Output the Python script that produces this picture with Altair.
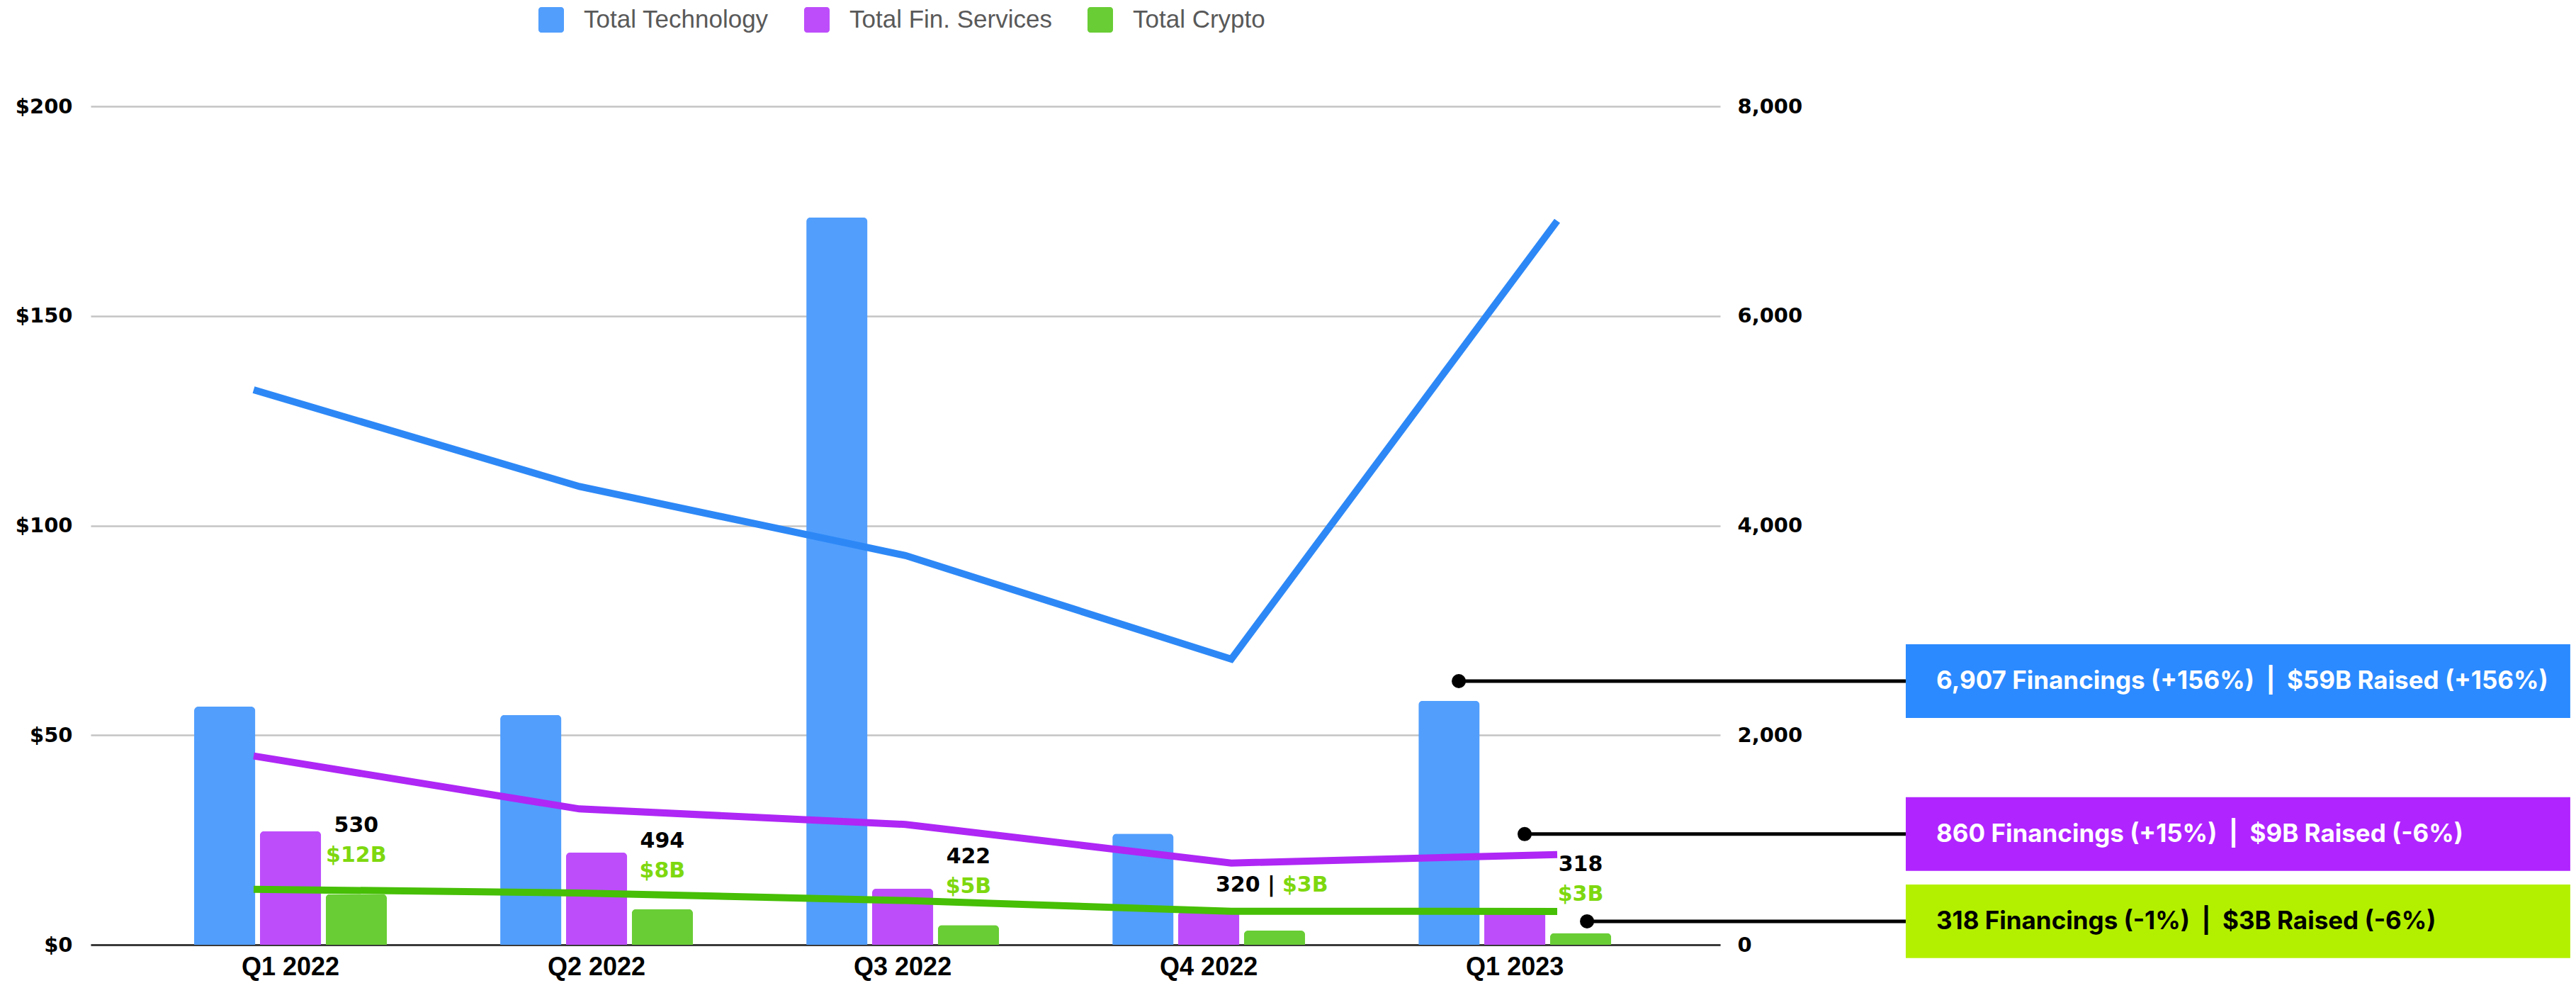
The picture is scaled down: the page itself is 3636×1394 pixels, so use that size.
import altair as alt
import pandas as pd

# ---------------- data ----------------
quarters = ["Q1 2022", "Q2 2022", "Q3 2022", "Q4 2022", "Q1 2023"]
series = ["Total Technology", "Total Fin. Services", "Total Crypto"]

# capital raised ($B) -> bars, left axis
tech_raised = [56.8, 54.8, 173.5, 26.5, 58.2]
fin_raised = [27.1, 22.0, 13.4, 8.0, 8.5]
crypto_raised = [12.1, 8.5, 4.7, 3.4, 2.8]

# number of financings -> lines, right axis
tech_count = [5295, 4372, 3714, 2726, 6907]
fin_count = [1801, 1296, 1148, 780, 860]
crypto_count = [530, 494, 422, 320, 318]

crypto_count_labels = ["530", "494", "422", "320", "318"]
crypto_raised_labels = ["$12B", "$8B", "$5B", "$3B", "$3B"]

callout_texts = [
    "6,907 Financings (+156%)\u00a0\u00a0|\u00a0\u00a0$59B Raised (+156%)",
    "860 Financings (+15%)\u00a0\u00a0|\u00a0\u00a0$9B Raised (-6%)",
    "318 Financings (-1%)\u00a0\u00a0|\u00a0\u00a0$3B Raised (-6%)",
]

# ---------------- styles ----------------
bar_colors = ["#519EFD", "#BD4DFB", "#69CD35"]
line_colors = ["#2D88F6", "#AE27F5", "#46BF06"]
box_colors = ["#2B8AFF", "#B024FF", "#B3F000"]
box_text_colors = ["#FFFFFF", "#FFFFFF", "#000000"]
label_green = "#7ED80F"

W, H = 2300, 1183

# callout layout (fraction of plot width, $B on left scale)
callout_dot_x = [0.8396, 0.880, 0.9183]
callout_box_left = 1.1139
callout_box_right = 1.5217
callout_text_x = 1.1326
callout_y = [62.9, 26.4, 5.6]
callout_half_h = 8.79

# ---------------- tables ----------------
raised_by_series = [tech_raised, fin_raised, crypto_raised]
count_by_series = [tech_count, fin_count, crypto_count]

bars_df = pd.DataFrame(
    [
        {"quarter": q, "series": s, "raised": raised_by_series[j][i]}
        for j, s in enumerate(series)
        for i, q in enumerate(quarters)
    ]
)
lines_df = pd.DataFrame(
    [
        {"quarter": q, "series": s, "count": count_by_series[j][i], "lcolor": line_colors[j]}
        for j, s in enumerate(series)
        for i, q in enumerate(quarters)
    ]
)
labels_df = pd.DataFrame(
    {
        "quarter": quarters,
        "series": ["Total Crypto"] * len(quarters),
        "raised": crypto_raised,
        "cnt": crypto_count_labels,
        "amt": crypto_raised_labels,
    }
)
callout_df = pd.DataFrame(
    {
        "text": callout_texts,
        "dot_x": callout_dot_x,
        "box_l": [callout_box_left] * 3,
        "box_r": [callout_box_right] * 3,
        "text_x": [callout_text_x] * 3,
        "yc": callout_y,
        "y_top": [v + callout_half_h for v in callout_y],
        "y_bot": [v - callout_half_h for v in callout_y],
        "bcolor": box_colors,
        "tcolor": box_text_colors,
    }
)

# ---------------- scales / encodings ----------------
band_scale = alt.Scale(domain=quarters, paddingInner=0.3704, paddingOuter=0.347, align=0.487)
offset_scale = alt.Scale(domain=series, paddingInner=0.07, paddingOuter=0)
left_scale = alt.Scale(domain=[0, 200])

rounded_square = (
    "M-0.78,-1H0.78C0.9,-1 1,-0.9 1,-0.78V0.78C1,0.9 0.9,1 0.78,1H-0.78"
    "C-0.9,1 -1,0.9 -1,0.78V-0.78C-1,-0.9 -0.9,-1 -0.78,-1Z"
)

x_axis = alt.Axis(
    title=None, labelFont="Liberation Sans", labelFontWeight="bold", labelFontSize=36,
    labelColor="#000000", labelPadding=14, labelAngle=0, ticks=False, domain=True,
    domainColor="#3a3a3a", domainWidth=3, grid=False,
)
y_left_axis = alt.Axis(
    title=None, values=[0, 50, 100, 150, 200], labelExpr="'$' + datum.value",
    labelFont="DejaVu Sans", labelFontWeight="bold", labelFontSize=29, labelColor="#000000",
    labelPadding=26, ticks=False, domain=False, grid=True, gridColor="#c4c4c4", gridWidth=2.5,
)
y_right_axis = alt.Axis(
    orient="right", title=None, values=[0, 2000, 4000, 6000, 8000], format=",.0f",
    labelFont="DejaVu Sans", labelFontWeight="bold", labelFontSize=29, labelColor="#000000",
    labelPadding=24, ticks=False, domain=False, grid=False,
)

bars = alt.Chart(bars_df).mark_bar(cornerRadiusTopLeft=6, cornerRadiusTopRight=6).encode(
    x=alt.X("quarter:N", sort=quarters, scale=band_scale, axis=x_axis),
    xOffset=alt.XOffset("series:N", sort=series, scale=offset_scale),
    y=alt.Y("raised:Q", scale=left_scale, axis=y_left_axis),
    color=alt.Color(
        "series:N", sort=series, scale=alt.Scale(domain=series, range=bar_colors),
        legend=alt.Legend(
            title=None, orient="none", legendX=632, legendY=-140, direction="horizontal",
            symbolType=rounded_square, symbolSize=1296, symbolStrokeWidth=0, symbolOpacity=1,
            labelFont="Liberation Sans", labelFontSize=35, labelColor="#595959",
            labelOffset=28, columnPadding=50, padding=0, labelLimit=1000,
        ),
    ),
)

lines = alt.Chart(lines_df).mark_line(strokeWidth=10, strokeCap="butt").encode(
    x=alt.X("quarter:N", sort=quarters, scale=alt.Scale(type="point", domain=quarters, padding=0.5), axis=None),
    y=alt.Y("count:Q", scale=alt.Scale(domain=[0, 8000]), axis=y_right_axis),
    stroke=alt.Stroke("lcolor:N", scale=None),
    detail="series:N",
)

lab_x = alt.X("quarter:N", sort=quarters, scale=band_scale, axis=None)
lab_off = alt.XOffset("series:N", scale=offset_scale)
lab_y = alt.Y("raised:Q", scale=left_scale, axis=None)
lab_base = alt.Chart(labels_df).encode(x=lab_x, xOffset=lab_off, y=lab_y)
font_lab = dict(font="DejaVu Sans", fontWeight="bold", fontSize=30, baseline="middle")

cnt_lab = lab_base.transform_filter(alt.datum.quarter != "Q4 2022").mark_text(
    color="#000000", dy=-96, **font_lab).encode(text="cnt:N")
amt_lab = lab_base.transform_filter(alt.datum.quarter != "Q4 2022").mark_text(
    color=label_green, dy=-54, **font_lab).encode(text="amt:N")
cnt_lab_q4 = lab_base.transform_filter(alt.datum.quarter == "Q4 2022").transform_calculate(
    t="datum.cnt + ' |'").mark_text(color="#000000", align="right", dx=1, dy=-64, **font_lab).encode(text="t:N")
amt_lab_q4 = lab_base.transform_filter(alt.datum.quarter == "Q4 2022").mark_text(
    color=label_green, align="left", dx=11, dy=-64, **font_lab).encode(text="amt:N")
labels = alt.layer(cnt_lab, amt_lab, cnt_lab_q4, amt_lab_q4)

ax = alt.Scale(domain=[0, 1])
ay = alt.Scale(domain=[0, 200])
c_base = alt.Chart(callout_df)
connectors = c_base.mark_rule(strokeWidth=5, color="#000000").encode(
    x=alt.X("dot_x:Q", scale=ax, axis=None), x2="box_l:Q",
    y=alt.Y("yc:Q", scale=ay, axis=None),
)
dots = c_base.mark_point(filled=True, shape="circle", size=400, color="#000000", opacity=1).encode(
    x=alt.X("dot_x:Q", scale=ax, axis=None), y=alt.Y("yc:Q", scale=ay, axis=None),
)
boxes = c_base.mark_rect().encode(
    x=alt.X("box_l:Q", scale=ax, axis=None), x2="box_r:Q",
    y=alt.Y("y_top:Q", scale=ay, axis=None), y2="y_bot:Q",
    fill=alt.Fill("bcolor:N", scale=None),
)
box_text = c_base.mark_text(
    align="left", baseline="middle", font="Inter", fontWeight="bold", fontSize=35
).encode(
    x=alt.X("text_x:Q", scale=ax, axis=None), y=alt.Y("yc:Q", scale=ay, axis=None),
    text="text:N", fill=alt.Fill("tcolor:N", scale=None),
)
callouts = alt.layer(connectors, dots, boxes, box_text)

chart = (
    alt.layer(bars, lines, labels, callouts)
    .resolve_scale(x="independent", y="independent")
    .properties(
        width=W, height=H,
        autosize=alt.AutoSizeParams(type="none"),
        padding={"left": 120, "top": 142, "right": 1200, "bottom": 53},
        background="#ffffff",
    )
    .configure_view(stroke=None)
)

chart.save("out.html", embed_options={"renderer": "svg", "actions": False})
